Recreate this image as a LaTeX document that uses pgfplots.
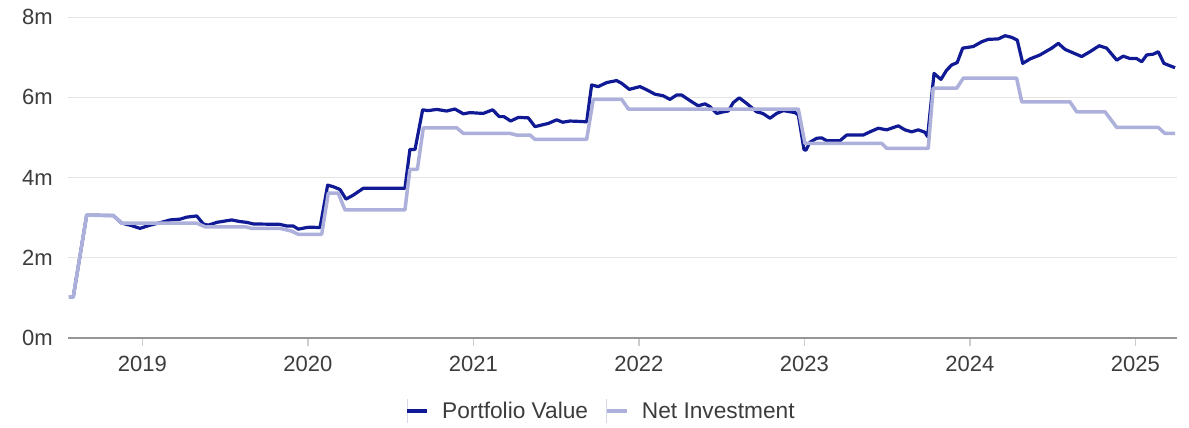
\documentclass[border=0pt]{standalone}
\usepackage{pgfplots}
\pgfplotsset{compat=1.18}
\usepackage{fontspec}
\setmainfont{Liberation Sans}
\definecolor{pv}{RGB}{16,26,148}
\definecolor{ni}{RGB}{172,176,218}
\definecolor{gridc}{RGB}{228,228,228}
\definecolor{axc}{RGB}{150,150,150}
\definecolor{tickc}{RGB}{205,205,205}
\definecolor{txt}{RGB}{60,60,60}
\definecolor{sepc}{RGB}{215,216,232}
\begin{document}
\begin{tikzpicture}
\useasboundingbox (0,0) rectangle (1189bp,428bp);
\begin{axis}[
  at={(68.3bp,90.3bp)}, anchor=south west,
  scale only axis, width=1108.4bp, height=320.4bp,
  xmin=2018.553, xmax=2025.25, ymin=0, ymax=8,
  axis lines=left, axis line style={-},
  y axis line style={draw=none},
  x axis line style={draw=axc, line width=1.6bp},
  xtick={2019,2020,2021,2022,2023,2024,2025},
  xticklabels={2019,2020,2021,2022,2023,2024,2025},
  ytick={0,2,4,6,8},
  yticklabels={0m,2m,4m,6m,8m},
  ymajorgrids, grid style={draw=gridc, line width=1.6bp},
  tick align=outside, major tick length=8bp,
  xtick style={draw=tickc, line width=1.5bp},
  ytick style={draw=none},
  tick label style={font=\fontsize{22bp}{26bp}\selectfont, text=txt},
  xticklabel style={yshift=-7bp},
  yticklabel style={xshift=-4bp},
  clip=false,
  legend columns=2,
  legend style={at={(0.4797,-0.2288)}, anchor=center, draw=none, fill=none,
    inner sep=0pt, nodes={inner sep=0pt},
    font=\fontsize{22.7bp}{26bp}\selectfont, text=txt,
    /tikz/every odd column/.append style={column sep=13.4bp},
    /tikz/every even column/.append style={column sep=17bp}},
  legend image code/.code={\draw[sepc, line width=1bp] (0bp,-12bp) -- (0bp,12bp);
    \draw[#1, line width=3.4bp] (0bp,0bp) -- (20bp,0bp);},
]
\addplot[pv, line width=3.2bp, line join=round] coordinates {
(2018.557,1.02)(2018.583,1.02)(2018.664,3.06)(2018.825,3.05)(2018.876,2.86)
(2018.926,2.81)(2018.986,2.73)(2019.047,2.81)(2019.107,2.87)(2019.167,2.94)
(2019.228,2.96)(2019.268,3.01)(2019.329,3.04)(2019.369,2.84)(2019.399,2.81)
(2019.450,2.88)(2019.540,2.94)(2019.590,2.90)(2019.631,2.88)(2019.671,2.84)
(2019.832,2.83)(2019.872,2.79)(2019.912,2.79)(2019.943,2.71)(2019.993,2.75)
(2020.013,2.76)(2020.074,2.75)(2020.120,3.81)(2020.154,3.77)(2020.195,3.70)
(2020.231,3.46)(2020.275,3.56)(2020.335,3.73)(2020.587,3.73)(2020.617,4.70)
(2020.648,4.70)(2020.694,5.69)(2020.728,5.67)(2020.779,5.70)(2020.839,5.66)
(2020.889,5.71)(2020.940,5.59)(2020.980,5.62)(2021.060,5.60)(2021.117,5.69)
(2021.157,5.52)(2021.185,5.52)(2021.226,5.41)(2021.272,5.50)(2021.332,5.49)
(2021.373,5.27)(2021.453,5.35)(2021.504,5.44)(2021.540,5.38)(2021.584,5.41)
(2021.645,5.40)(2021.685,5.39)(2021.715,6.31)(2021.755,6.27)(2021.806,6.37)
(2021.866,6.42)(2021.897,6.35)(2021.943,6.20)(2022.007,6.27)(2022.043,6.20)
(2022.098,6.08)(2022.148,6.04)(2022.188,5.95)(2022.229,6.06)(2022.259,6.06)
(2022.309,5.92)(2022.359,5.79)(2022.400,5.84)(2022.430,5.77)(2022.471,5.60)
(2022.511,5.64)(2022.541,5.66)(2022.571,5.87)(2022.607,5.99)(2022.652,5.85)
(2022.712,5.64)(2022.749,5.60)(2022.793,5.48)(2022.833,5.60)(2022.873,5.67)
(2022.944,5.62)(2022.964,5.56)(2022.998,4.70)(2023.010,4.68)(2023.034,4.88)
(2023.075,4.98)(2023.105,4.99)(2023.135,4.92)(2023.216,4.92)(2023.256,5.06)
(2023.356,5.06)(2023.397,5.14)(2023.447,5.23)(2023.498,5.19)(2023.568,5.29)
(2023.608,5.19)(2023.649,5.14)(2023.689,5.19)(2023.729,5.13)(2023.745,5.02)
(2023.784,6.60)(2023.800,6.54)(2023.826,6.45)(2023.860,6.68)(2023.891,6.81)
(2023.924,6.87)(2023.957,7.23)(2024.021,7.27)(2024.072,7.39)(2024.112,7.45)
(2024.172,7.46)(2024.213,7.54)(2024.253,7.50)(2024.287,7.43)(2024.320,6.85)
(2024.364,6.96)(2024.424,7.06)(2024.474,7.18)(2024.495,7.23)(2024.535,7.35)
(2024.575,7.20)(2024.676,7.02)(2024.726,7.14)(2024.782,7.29)(2024.827,7.23)
(2024.888,6.93)(2024.927,7.03)(2024.968,6.97)(2025.008,6.97)(2025.039,6.89)
(2025.069,7.06)(2025.109,7.08)(2025.139,7.14)(2025.173,6.85)(2025.240,6.74)
};
\addlegendentry{Portfolio Value}
\addplot[ni, line width=3.5bp, line join=round] coordinates {
(2018.557,1.02)(2018.583,1.02)(2018.664,3.06)(2018.825,3.05)(2018.876,2.86)
(2019.329,2.86)(2019.379,2.77)(2019.621,2.77)(2019.661,2.73)(2019.832,2.73)
(2019.903,2.66)(2019.943,2.58)(2020.084,2.58)(2020.124,3.61)(2020.184,3.61)
(2020.225,3.19)(2020.587,3.19)(2020.617,4.20)(2020.662,4.20)(2020.698,5.24)
(2020.900,5.24)(2020.940,5.10)(2021.222,5.10)(2021.262,5.06)(2021.343,5.06)
(2021.373,4.95)(2021.685,4.95)(2021.725,5.95)(2021.897,5.95)(2021.937,5.71)
(2022.964,5.71)(2023.004,4.85)(2023.468,4.85)(2023.498,4.73)(2023.749,4.73)
(2023.779,6.23)(2023.921,6.23)(2023.961,6.48)(2024.283,6.48)(2024.314,5.89)
(2024.605,5.89)(2024.646,5.64)(2024.817,5.64)(2024.888,5.25)(2025.139,5.25)
(2025.179,5.10)(2025.240,5.10)
};
\addlegendentry{Net Investment}
\end{axis}
\end{tikzpicture}
\end{document}
